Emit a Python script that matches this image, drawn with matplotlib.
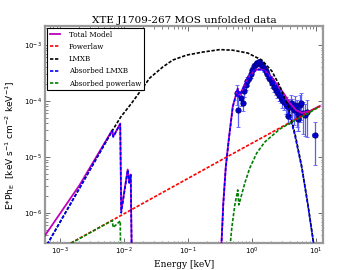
import numpy as np
import matplotlib
matplotlib.use('Agg')
import matplotlib.pyplot as plt

# model curves (energy in keV, E*Ph_E); 1e-12 = fully absorbed
total_e = [5.83e-4, 2.05e-3, 6.61e-3, 6.86e-3, 8.82e-3, 9.14e-3, 1.155e-2, 1.219e-2, 1.286e-2, 1.334e-2, 1.34e-2,
           0.326, 0.328, 0.3587, 0.392, 0.437, 0.505, 0.604, 0.626, 0.698, 0.806, 0.931, 1.114, 1.286, 1.596,
           2.13, 2.74, 3.28, 3.92, 4.87, 6.04, 8.06, 11.55]
total_f = [3.88e-7, 3.16e-6, 3.02e-5, 2.33e-5, 3.95e-5, 1.09e-6, 5.98e-6, 3.51e-6, 4.87e-6, 1.78e-7, 1e-12,
           1e-12, 1.57e-7, 1.51e-6, 6.62e-6, 2.09e-5, 8.15e-5, 1.67e-4, 1.20e-4, 1.54e-4, 2.14e-4, 2.85e-4, 3.51e-4, 3.73e-4, 3.51e-4,
           2.47e-4, 1.71e-4, 1.28e-4, 9.21e-5, 6.90e-5, 6.11e-5, 6.62e-5, 8.15e-5]

powerlaw_e = [5.83e-4, 7.23e-3, 0.075, 0.407, 2.74, 11.55]
powerlaw_f = [1.60e-7, 7.81e-7, 3.43e-6, 1.0e-5, 3.30e-5, 8.15e-5]

lmxb_e = [5.83e-4, 2.05e-3, 6.73e-3, 8.98e-3, 1.334e-2, 1.778e-2, 2.55e-2, 4.07e-2, 5.83e-2, 9.65e-2, 0.1715,
          0.316, 0.505, 0.866, 1.433, 2.054, 2.74, 3.65, 4.70, 6.04, 7.50, 9.30]
lmxb_f = [2.28e-7, 2.79e-6, 3.03e-5, 5.18e-5, 9.21e-5, 1.45e-4, 2.58e-4, 4.05e-4, 5.40e-4, 6.63e-4, 7.50e-4,
          8.3e-4, 8.1e-4, 7.20e-4, 5.40e-4, 3.43e-4, 1.85e-4, 8.15e-5, 2.68e-5, 6.62e-6, 1.45e-6, 2.68e-7]

abs_lmxb_e = [5.83e-4, 2.05e-3, 6.61e-3, 6.86e-3, 8.82e-3, 9.14e-3, 1.155e-2, 1.219e-2, 1.286e-2, 1.334e-2, 1.34e-2,
              0.326, 0.328, 0.3587, 0.392, 0.437, 0.505, 0.604, 0.626, 0.698, 0.806, 0.931, 1.114, 1.286, 1.596,
              2.13, 2.74, 3.65, 4.70, 6.04, 7.50, 9.30]
abs_lmxb_f = [2.28e-7, 2.79e-6, 2.95e-5, 2.28e-5, 3.88e-5, 1.0e-6, 5.86e-6, 3.43e-6, 4.77e-6, 1.78e-7, 1e-12,
              1e-12, 1.45e-7, 1.39e-6, 6.37e-6, 2.01e-5, 7.81e-5, 1.64e-4, 1.18e-4, 1.51e-4, 2.10e-4, 2.79e-4, 3.43e-4, 3.65e-4, 3.43e-4,
              2.37e-4, 1.51e-4, 7.19e-5, 2.47e-5, 6.37e-6, 1.39e-6, 2.68e-7]

abs_pl_e = [5.83e-4, 6.61e-3, 6.86e-3, 8.82e-3, 9.14e-3, 1.0e-2, 0.43, 0.437, 0.487, 0.543, 0.604,
            0.626, 0.673, 0.778, 0.931, 1.197, 1.596, 2.74, 4.37, 7.23, 11.55]
abs_pl_f = [1.58e-7, 7.31e-7, 5.51e-7, 7.19e-7, 1.85e-8, 1e-12, 1e-12, 1.45e-7, 5.39e-7, 1.39e-6, 2.58e-6,
            1.39e-6, 1.85e-6, 3.43e-6, 6.37e-6, 1.18e-5, 1.85e-5, 3.16e-5, 4.30e-5, 5.86e-5, 7.98e-5]

# unfolded MOS data points
data_e = [0.583, 0.615, 0.673, 0.723, 0.763, 0.806, 0.851, 0.898, 0.965, 1.018, 1.075, 1.155, 1.219, 1.286, 1.382,
          1.459, 1.540, 1.655, 1.746, 1.843, 1.981, 2.091, 2.207, 2.371, 2.503, 2.642, 2.839, 2.997, 3.162, 3.398,
          3.587, 3.786, 4.068, 4.295, 4.532, 4.783, 5.048, 5.329, 5.623, 5.935, 6.264, 6.732, 7.234, 9.65, 3.65, 5.235]
data_f = [1.39e-4, 6.90e-5, 1.13e-4, 9.21e-5, 1.51e-4, 1.93e-4, 2.28e-4, 2.58e-4, 3.03e-4, 3.58e-4, 4.22e-4, 4.58e-4,
          4.77e-4, 4.97e-4, 4.58e-4, 4.22e-4, 3.88e-4, 3.43e-4, 3.03e-4, 2.58e-4, 2.37e-4, 2.10e-4, 1.78e-4, 1.57e-4,
          1.45e-4, 1.28e-4, 1.18e-4, 1.04e-4, 9.59e-5, 8.84e-5, 8.15e-5, 7.81e-5, 9.21e-5, 7.81e-5, 6.90e-5, 8.49e-5,
          6.90e-5, 5.86e-5, 8.49e-5, 9.21e-5, 6.11e-5, 5.62e-5, 6.37e-5, 2.47e-5, 5.39e-5, 4.77e-5]
data_ferr = [5.4e-5, 3.5e-5, 3.2e-5, 2.6e-5, 3.4e-5, 3.5e-5, 4.1e-5, 3.4e-5, 4.0e-5, 4.7e-5, 5.5e-5, 6.0e-5,
             6.2e-5, 6.5e-5, 6.0e-5, 5.5e-5, 5.1e-5, 4.5e-5, 4.0e-5, 3.4e-5, 4.2e-5, 3.8e-5, 3.2e-5, 2.8e-5,
             3.3e-5, 2.9e-5, 2.7e-5, 2.9e-5, 2.7e-5, 2.9e-5, 2.7e-5, 3.0e-5, 3.6e-5, 3.0e-5, 3.1e-5, 3.8e-5,
             3.5e-5, 3.0e-5, 4.3e-5, 4.7e-5, 3.5e-5, 3.2e-5, 4.1e-5, 1.74e-5, 1.5e-5, 1.9e-5]
data_eerr = [0.016, 0.017, 0.018, 0.020, 0.021, 0.022, 0.023, 0.024, 0.026, 0.027, 0.029, 0.031, 0.033, 0.035, 0.037,
             0.039, 0.042, 0.045, 0.047, 0.050, 0.053, 0.056, 0.060, 0.064, 0.068, 0.071, 0.077, 0.081, 0.085, 0.092,
             0.097, 0.10, 0.11, 0.12, 0.12, 0.13, 0.14, 0.14, 0.15, 0.16, 0.17, 0.18, 0.20, 0.95, 0.10, 0.14]

SERIF = 'DejaVu Serif'

fig = plt.figure(figsize=(3.6, 2.7), dpi=100)
ax = fig.add_axes([0.125, 0.1, 0.772, 0.804])

ax.errorbar(data_e, data_f, yerr=data_ferr, xerr=data_eerr, fmt='o', ms=3.8,
            mfc='#0000cc', mec='#000080', mew=0.6, ecolor='#5c5cff',
            elinewidth=0.9, capsize=1.6, capthick=0.8, zorder=2)

dash = (2.0, 1.0)
ax.plot(total_e, total_f, color='m', lw=1.3, label='Total Model', zorder=3)
ax.plot(powerlaw_e, powerlaw_f, color='r', lw=1.2, dashes=dash, label='Powerlaw', zorder=3)
ax.plot(lmxb_e, lmxb_f, color='k', lw=1.2, dashes=dash, label='LMXB', zorder=3)
ax.plot(abs_lmxb_e, abs_lmxb_f, color='b', lw=1.2, dashes=dash, label='Absorbed LMXB', zorder=3)
ax.plot(abs_pl_e, abs_pl_f, color='g', lw=1.2, dashes=dash, label='Absorbed powerlaw', zorder=3)

ax.set_xscale('log')
ax.set_yscale('log')
ax.set_xlim(5.9e-4, 12.9)
ax.set_ylim(2.9e-7, 2.2e-3)

for s in ax.spines.values():
    s.set_color('#999999')
    s.set_linewidth(1.6)
ax.tick_params(which='both', direction='in', top=True, right=True, color='#555555', labelsize=5, pad=2)
ax.tick_params(which='major', length=3.5, width=0.6)
ax.tick_params(which='minor', length=1.8, width=0.5)

ax.set_title('XTE J1709-267 MOS unfolded data', fontsize=7.5, family=SERIF, pad=2)
ax.set_xlabel('Energy [keV]', fontsize=6.5, family=SERIF, labelpad=2)
ax.set_ylabel(r'E*Ph$_\mathrm{E}$  [keV s$^{-1}$ cm$^{-2}$ keV$^{-1}$]', fontsize=6.5)
ax.yaxis.set_label_coords(-0.1, 0.45)

leg = ax.legend(loc='upper left', prop={'family': SERIF, 'size': 5.1}, fancybox=False,
                edgecolor='k', framealpha=1, handlelength=1.4, handletextpad=1.3,
                labelspacing=0.6, borderpad=0.4, borderaxespad=0.25)
leg.get_frame().set_linewidth(0.8)

fig.savefig('out.png', dpi=100)
